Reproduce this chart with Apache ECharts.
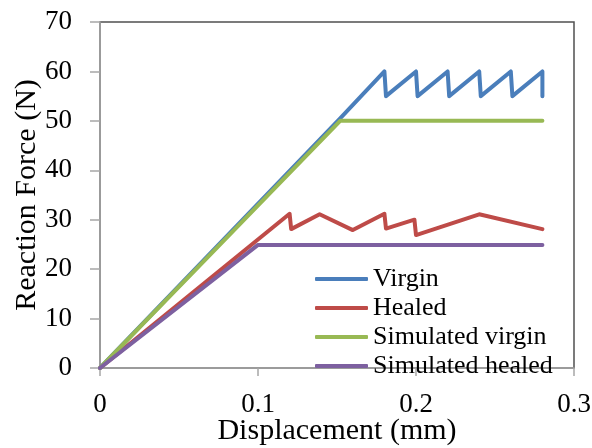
<!DOCTYPE html>
<html>
<head>
<meta charset="utf-8">
<script src="https://cdn.jsdelivr.net/npm/echarts@6/dist/echarts.min.js"></script>
<style>
  html, body { margin: 0; padding: 0; background: #fff; }
  #chart { width: 592px; height: 448px; }
</style>
</head>
<body>
<div id="chart"></div>
<script>
// data: [displacement (mm), force (N)]
var virgin = [[0, 0], [0.152, 50.5], [0.18, 60], [0.181, 55], [0.2, 60], [0.201, 55],
  [0.22, 60], [0.221, 55], [0.24, 60], [0.241, 55], [0.26, 60], [0.261, 55], [0.28, 60], [0.28, 55]];
var healed = [[0, 0], [0.12, 31.2], [0.121, 28.1], [0.139, 31.1], [0.16, 27.9], [0.18, 31.2],
  [0.181, 28.2], [0.199, 30], [0.2, 26.9], [0.24, 31.1], [0.28, 28.1]];
var simVirgin = [[0, 0], [0.152, 50], [0.28, 50]];
var simHealed = [[0, 0], [0.1, 24.9], [0.28, 24.9]];

var names = ["Virgin", "Healed", "Simulated virgin", "Simulated healed"];
var colors = ["#4a7ebb", "#be4b48", "#98b954", "#7d60a0"];

var font = "'Liberation Serif', 'Times New Roman', serif";

function line(name, data, color) {
  return {
    name: name,
    type: "line",
    data: data,
    showSymbol: false,
    symbol: "none",
    animation: false,
    lineStyle: { width: 4, color: color, cap: "round", join: "round" },
    itemStyle: { color: color }
  };
}

var chart = echarts.init(document.getElementById("chart"));
chart.setOption({
  animation: false,
  grid: {
    left: 100, right: 18, top: 22, bottom: 80,
    outerBoundsMode: "none",
    containLabel: false,
    show: true, borderColor: "#505050", borderWidth: 1.5
  },
  legend: {
    orient: "vertical",
    left: 310,
    top: 261,
    icon: "roundRect",
    itemWidth: 53,
    itemHeight: 4,
    itemGap: 3,
    data: names,
    textStyle: { fontFamily: font, fontSize: 26, color: "#000", lineHeight: 23 }
  },
  xAxis: {
    type: "value",
    min: 0, max: 0.3, interval: 0.1,
    name: "Displacement (mm)",
    nameLocation: "middle",
    nameGap: 48,
    nameMoveOverlap: false,
    nameTextStyle: { fontFamily: font, fontSize: 30, color: "#000" },
    axisLine: { lineStyle: { color: "#a6a6a6", width: 1.5 } },
    axisTick: { show: true, length: 8, lineStyle: { color: "#a6a6a6", width: 1.5 } },
    axisLabel: { fontFamily: font, fontSize: 27, color: "#000", margin: 23 },
    splitLine: { show: false }
  },
  yAxis: {
    type: "value",
    min: 0, max: 70, interval: 10,
    name: "Reaction Force (N)",
    nameLocation: "middle",
    nameGap: 58,
    nameMoveOverlap: false,
    nameTextStyle: { fontFamily: font, fontSize: 30, color: "#000" },
    axisLine: { show: true, lineStyle: { color: "#a6a6a6", width: 1.5 } },
    axisTick: { show: true, length: 10, lineStyle: { color: "#a6a6a6", width: 1.5 } },
    axisLabel: { fontFamily: font, fontSize: 27, color: "#000", margin: 28 },
    splitLine: { show: false }
  },
  series: [
    line(names[0], virgin, colors[0]),
    line(names[1], healed, colors[1]),
    line(names[2], simVirgin, colors[2]),
    line(names[3], simHealed, colors[3])
  ]
});
</script>
</body>
</html>
